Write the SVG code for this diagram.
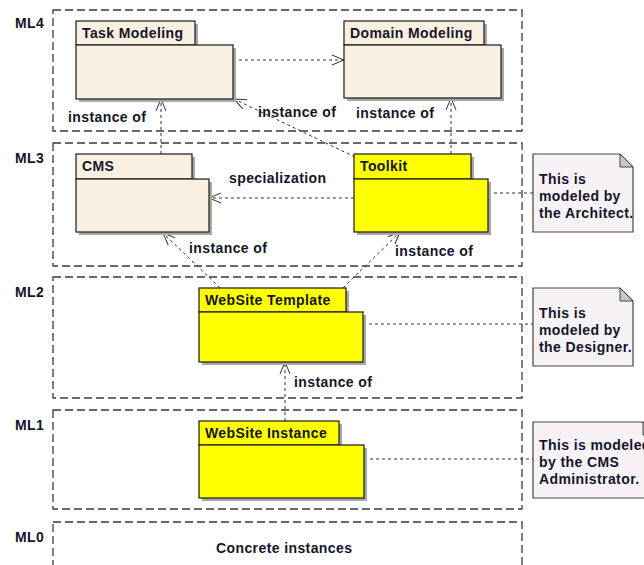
<svg xmlns="http://www.w3.org/2000/svg" width="644" height="565" viewBox="0 0 644 565">
  <style>
    text { font-family: "Liberation Sans", Arial, sans-serif; font-weight: bold; font-size: 14px; letter-spacing: 0.4px; fill: #15152a; }
    .lane { fill: none; stroke: #3a3a3a; stroke-width: 1.3; stroke-dasharray: 8 4; }
    .shadow { fill: #a8a8a8; }
    .pkgA { fill: #faf0e1; stroke: #1a1a1a; stroke-width: 1.2; }
    .pkgB { fill: #ffff00; stroke: #1a1a1a; stroke-width: 1.2; }
    .note { fill: #f6f2f6; stroke: #444; stroke-width: 1.2; }
    .fold { fill: #c8c8c8; stroke: #444; stroke-width: 1; }
    .dep { fill: none; stroke: #333; stroke-width: 1; stroke-dasharray: 3 3; marker-end: url(#open); }
    .link { fill: none; stroke: #333; stroke-width: 1; stroke-dasharray: 3 3; }
  </style>
  <defs>
    <marker id="open" markerUnits="userSpaceOnUse" markerWidth="14" markerHeight="12" refX="12" refY="6" orient="auto" viewBox="0 0 14 12">
      <path d="M0,1 L12,6 L0,11" fill="none" stroke="#333" stroke-width="1"/>
    </marker>
  </defs>

  <!-- meta-level lanes -->
  <g id="lanes">
    <rect class="lane" x="53" y="10" width="469" height="121"/>
    <rect class="lane" x="53" y="143" width="469" height="123"/>
    <rect class="lane" x="53" y="277" width="469" height="121"/>
    <rect class="lane" x="53" y="410" width="469" height="99"/>
    <rect class="lane" x="53" y="522" width="469" height="70"/>
    <text x="15" y="28">ML4</text>
    <text x="15" y="163">ML3</text>
    <text x="15" y="297">ML2</text>
    <text x="15" y="430">ML1</text>
    <text x="15" y="542">ML0</text>
    <text x="216" y="553">Concrete instances</text>
  </g>

  <!-- connectors -->
  <g id="connectors">
    <line class="dep" x1="233" y1="60" x2="344" y2="60"/>
    <line class="dep" x1="161" y1="154" x2="161" y2="99"/>
    <line class="dep" x1="355" y1="157" x2="234" y2="99"/>
    <line class="dep" x1="451" y1="154" x2="451" y2="98"/>
    <line class="dep" x1="354" y1="198" x2="209" y2="198"/>
    <line class="dep" x1="220" y1="288" x2="163" y2="233"/>
    <line class="dep" x1="343" y1="288" x2="400" y2="232"/>
    <line class="dep" x1="285" y1="421" x2="285" y2="362"/>
    <line class="link" x1="488" y1="193" x2="533" y2="193"/>
    <line class="link" x1="363" y1="324" x2="533" y2="324"/>
    <line class="link" x1="364" y1="459" x2="533" y2="459"/>
    <circle cx="210" cy="198" r="1.5" fill="#111"/>
    <circle cx="285" cy="363" r="1.5" fill="#111"/>
    <text x="68" y="122">instance of</text>
    <text x="258" y="117">instance of</text>
    <text x="356" y="118">instance of</text>
    <text x="229" y="183">specialization</text>
    <text x="189" y="253">instance of</text>
    <text x="395" y="256">instance of</text>
    <text x="294" y="387">instance of</text>
  </g>

  <g id="task-modeling">
    <rect class="shadow" x="79" y="24" width="119" height="24"/>
    <rect class="shadow" x="79" y="48" width="157" height="54"/>
    <rect class="pkgA" x="76" y="21" width="119" height="24"/>
    <rect class="pkgA" x="76" y="45" width="157" height="54"/>
    <text x="82" y="38">Task Modeling</text>
  </g>

  <g id="domain-modeling">
    <rect class="shadow" x="347" y="24" width="140" height="24"/>
    <rect class="shadow" x="347" y="48" width="157" height="53"/>
    <rect class="pkgA" x="344" y="21" width="140" height="24"/>
    <rect class="pkgA" x="344" y="45" width="157" height="53"/>
    <text x="350" y="38">Domain Modeling</text>
  </g>

  <g id="cms">
    <rect class="shadow" x="79" y="157" width="116" height="25"/>
    <rect class="shadow" x="79" y="182" width="133" height="53"/>
    <rect class="pkgA" x="76" y="154" width="116" height="25"/>
    <rect class="pkgA" x="76" y="179" width="133" height="53"/>
    <text x="82" y="171">CMS</text>
  </g>

  <g id="toolkit">
    <rect class="shadow" x="357" y="157" width="117" height="25"/>
    <rect class="shadow" x="357" y="182" width="134" height="53"/>
    <rect class="pkgB" x="354" y="154" width="117" height="25"/>
    <rect class="pkgB" x="354" y="179" width="134" height="53"/>
    <text x="360" y="171">Toolkit</text>
  </g>

  <g id="website-template">
    <rect class="shadow" x="202" y="291" width="147" height="24"/>
    <rect class="shadow" x="202" y="315" width="164" height="50"/>
    <rect class="pkgB" x="199" y="288" width="147" height="24"/>
    <rect class="pkgB" x="199" y="312" width="164" height="50"/>
    <text x="205" y="305">WebSite Template</text>
  </g>

  <g id="website-instance">
    <rect class="shadow" x="202" y="424" width="140" height="24"/>
    <rect class="shadow" x="202" y="448" width="165" height="53"/>
    <rect class="pkgB" x="199" y="421" width="140" height="24"/>
    <rect class="pkgB" x="199" y="445" width="165" height="53"/>
    <text x="205" y="438">WebSite Instance</text>
  </g>

  <g id="note-architect">
    <path class="note" d="M533,154 H620 L633,167 V232 H533 Z"/>
    <path class="fold" d="M620,154 V167 H633 Z"/>
    <text x="539" y="184">This is</text>
    <text x="539" y="201">modeled by</text>
    <text x="539" y="218">the Architect.</text>
  </g>

  <g id="note-designer">
    <path class="note" d="M533,288 H620 L633,301 V366 H533 Z"/>
    <path class="fold" d="M620,288 V301 H633 Z"/>
    <text x="539" y="318">This is</text>
    <text x="539" y="335">modeled by</text>
    <text x="539" y="352">the Designer.</text>
  </g>

  <g id="note-administrator">
    <path class="note" d="M533,422 H643 L656,435 V498 H533 Z"/>
    <path class="fold" d="M643,422 V435 H656 Z"/>
    <text x="539" y="450">This is modeled</text>
    <text x="539" y="467">by the CMS</text>
    <text x="539" y="484">Administrator.</text>
  </g>
</svg>
